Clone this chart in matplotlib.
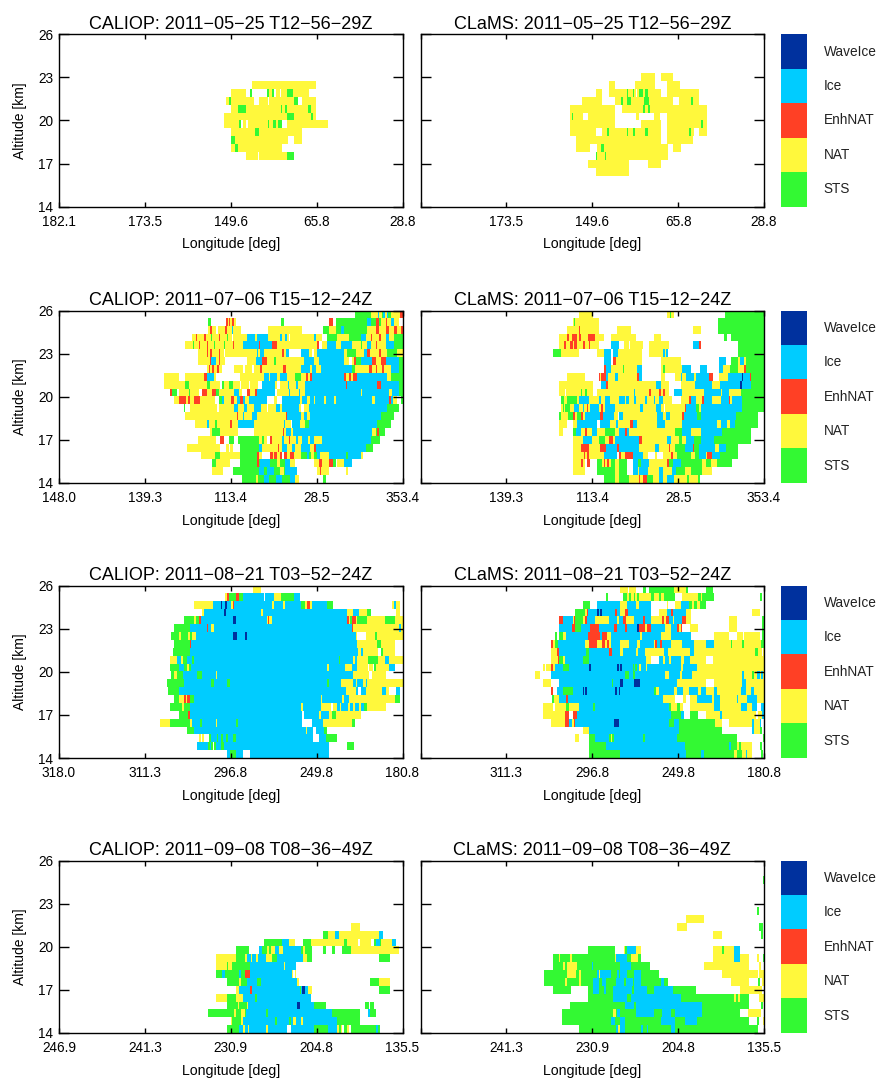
import numpy as np
import matplotlib
matplotlib.use('Agg')
import matplotlib.pyplot as plt
from matplotlib.colors import ListedColormap

plt.rcParams['font.family'] = ['Liberation Sans', 'DejaVu Sans']

# classes, bottom to top of the colour bar
classes = ['STS', 'NAT', 'EnhNAT', 'Ice', 'WaveIce']
class_codes = 'SNEIW'
class_colors = ['#33F933', '#FFF83C', '#FF4025', '#00CCFF', '#00319E']

dates = ['2011\u221205\u221225 T12\u221256\u221229Z', '2011\u221207\u221206 T15\u221212\u221224Z',
         '2011\u221208\u221221 T03\u221252\u221224Z', '2011\u221209\u221208 T08\u221236\u221249Z']
lon_labels = [['182.1', '173.5', '149.6', '65.8', '28.8'],
              ['148.0', '139.3', '113.4', '28.5', '353.4'],
              ['318.0', '311.3', '296.8', '249.8', '180.8'],
              ['246.9', '241.3', '230.9', '204.8', '135.5']]
alt_ticks = [14, 17, 20, 23, 26]

# first and last along-track sample of each curtain
track_caliop = [(177, 1207), (27, 1057), (25, 1057), (25, 1057)]
track_clams = [(32, 1063), (18, 1048), (18, 1048), (18, 1048)]

# curtains: one string per altitude row, top row first.
# "a X b" means class X from sample a to sample b, "." is no cloud
caliop_may = [''] * 6 + [
    '756 N 948',
    '692 N 738 . 750 S 756 . 800 S 806 N 814 S 820 . 826 N 838 . 842 N 860 S 878 N 927',
    '678 N 686 S 693 N 760 . 776 N 802 . 806 N 880 S 894 . 905 N 947',
    '692 N 714 S 738 N 842 S 846 N 854 S 860 N 924 S 933 N 947',
    '672 N 820 S 822 N 860 S 882 N 932 S 938 N 947',
    '672 N 716 S 722 . 728 N 738 . 742 N 802 S 806 N 818 S 828 N 834 S 844 . 860 N 981',
    '692 N 765 S 777 N 906',
    '692 S 705 N 862 . 882 N 906',
    '692 N 705 S 714 N 844',
    '738 N 774 . 777 N 860 S 882',
] + [''] * 6
clams_may = [''] * 5 + [
    '690 N 732 . 750 N 788',
    '594 N 614 . 672 N 732 . 770 N 808',
    '555 N 575 . 594 N 648 S 652 N 666 S 671 N 675 . 678 N 686 S 696 N 704 S 712 N 750 . 768 N 866',
    '516 N 575 . 612 N 632 S 638 N 648 S 660 N 700 S 714 N 788 . 806 N 842 S 846 N 866',
    '478 N 614 . 634 N 696 S 702 N 712 S 717 N 888',
    '478 N 486 S 489 N 518 . 534 N 614 . 675 N 684 . 730 N 748 . 768 N 888',
    '478 N 614 . 690 N 750 . 768 N 872 S 876 N 888',
    '478 N 556 . 574 N 590 S 594 N 648 S 652 N 666 S 672 N 704 S 712 N 750 . 768 N 834 S 840 N 850 . 866 N 888',
    '496 N 750 . 768 N 848',
    '496 N 538 . 558 N 572 S 580 N 772 . 788 N 810',
    '556 S 558 N 582 S 585 N 772',
    '534 N 654 . 712 N 750',
    '555 N 654',
] + [''] * 4

caliop_jul = [
    '912 S 960 N 982 I 986 N 994 S 998 I 1003 N 1008 I 1012 S 1022 N 1048 E 1057',
    '472 S 483 . 528 E 532 N 536 E 540 N 545 E 550 N 556 . 692 S 702 . 836 E 846 . 855 S 950 I 960 S 975 E 985 S 990 N 1005 E 1010 N 1022 I 1030 N 1045',
    '472 N 478 E 486 N 496 . 503 N 523 E 530 N 545 I 548 N 572 . 652 N 756 . 816 S 836 N 855 S 870 I 880 S 950 N 975 E 985 N 1005 E 1015 N 1030 E 1040 N 1050 E 1057',
    '426 N 436 E 440 N 462 E 468 N 482 S 486 N 505 E 510 N 530 S 534 N 545 . 548 N 590 I 615 N 620 I 652 N 690 I 694 N 704 I 710 N 716 . 720 N 790 I 796 N 815 . 830 S 860 N 895 S 930 I 945 N 960 E 965 N 985 E 990 N 1005 I 1015 N 1030 S 1057',
    '405 N 428 S 432 N 445 E 450 N 470 E 474 N 490 S 495 N 520 S 525 N 548 E 552 N 578 I 625 E 628 I 665 E 680 N 800 E 805 . 815 N 830 I 855 N 870 I 905 N 930 S 935 N 950 I 960 N 975 E 980 N 1005 I 1030 S 1057',
    '444 N 470 E 474 N 478 E 486 N 506 E 510 N 522 . 525 N 620 I 624 N 630 I 640 N 695 E 700 N 708 I 716 . 752 I 777 N 785 . 790 N 800 I 880 N 890 S 917 N 940 I 950 E 958 N 985 E 990 N 1010 S 1040 N 1057',
    '444 N 478 E 482 I 498 N 505 E 510 N 525 . 590 N 618 I 634 E 650 N 672 S 677 N 762 I 790 N 804 I 880 N 895 . 905 N 910 E 916 S 930 I 965 E 975 N 990 E 1005 I 1045 S 1057',
    '470 N 476 E 480 N 486 E 490 N 500 E 505 N 515 . 550 N 578 . 584 N 606 . 612 N 630 E 634 N 698 E 708 N 752 I 780 N 784 I 796 N 810 I 905 S 912 N 955 E 965 N 975 E 980 N 995 E 1000 N 1020 I 1045 S 1057',
    '342 N 386 . 405 N 462 E 470 I 492 N 498 . 568 N 640 I 655 N 660 I 680 N 690 I 710 N 735 S 752 N 768 E 772 N 780 E 786 I 880 E 885 N 895 E 900 N 908 E 918 I 1010 N 1022 S 1057',
    '342 N 405 S 415 N 470 S 480 N 510 . 514 S 522 N 536 S 548 N 568 . 572 N 595 . 600 N 622 . 635 I 675 N 680 . 688 N 712 I 716 N 736 I 742 N 765 I 885 E 888 I 980 E 990 I 1045 S 1057',
    '358 E 364 S 380 . 386 N 415 S 420 N 445 . 456 E 470 N 484 E 498 S 505 N 552 I 565 N 575 . 590 E 600 N 615 E 620 I 675 . 680 N 715 I 720 N 745 I 750 N 765 I 930 N 935 I 1015 N 1024 I 1045 S 1057',
    '370 N 385 E 408 N 414 E 420 N 430 E 450 N 495 . 505 S 515 I 522 N 542 E 550 N 560 I 570 E 578 I 585 N 595 I 650 . 672 N 680 . 694 I 748 N 755 I 770 N 780 I 790 N 795 I 820 N 825 I 850 N 855 I 965 N 972 I 1015 E 1020 I 1026 N 1040 . 1050 S 1057',
    '400 S 405 . 420 N 500 . 505 N 552 I 562 N 580 I 590 N 610 I 632 N 650 . 652 N 678 I 690 N 695 I 745 N 752 . 760 N 775 I 1010 S 1045',
    '405 N 560 E 564 N 578 I 580 N 604 I 620 N 706 E 710 I 752 N 760 I 770 N 778 I 992 S 1030',
    '435 N 470 I 476 N 495 S 500 N 540 E 545 N 562 I 610 N 700 I 704 N 722 . 725 I 750 N 764 S 775 I 978 S 1022',
    '478 N 486 S 508 N 564 . 610 N 698 E 702 N 706 I 722 N 728 I 965 N 975 S 980 E 986 S 1002',
    '444 N 498 . 510 E 520 . 536 S 552 . 564 S 627 N 635 S 642 N 650 . 660 E 665 N 695 I 700 N 715 E 720 N 738 I 744 N 755 I 772 N 778 I 790 N 815 I 960 S 987',
    '411 N 510 . 528 N 535 . 540 N 548 . 570 S 625 I 636 N 682 E 686 N 695 I 710 N 725 I 735 N 752 I 778 N 790 E 796 I 945 S 968',
    '453 N 495 S 508 N 570 S 620 E 625 N 635 . 658 E 668 N 672 E 680 N 690 E 695 . 700 E 710 N 720 E 730 N 752 S 770 I 775 S 782 N 790 S 800 I 808 N 835 I 885 S 892 I 930 N 938',
    '486 S 498 N 540 . 570 S 620 E 625 S 628 I 660 S 680 N 690 S 705 I 720 N 735 . 790 N 805 E 815 N 835 E 848 S 855 . 860 N 880 I 903',
    '486 N 517 . 548 S 625 I 640 S 650 I 670 S 690 N 700 S 705 I 740 . 800 N 808 E 812 N 834 . 885 N 892',
    '576 S 618 N 622 S 640 I 655 S 678 I 696 S 720 I 735 N 746 . 816 S 825',
]
clams_jul = [
    '490 N 532 . 756 N 765 S 768 N 776 . 927 S 1048',
    '472 N 476 S 478 N 514 E 516 N 550 . 908 S 1048',
    '454 N 490 E 494 N 550 . 604 N 646 . 832 N 855 . 908 S 1048',
    '432 N 456 E 460 N 470 E 486 N 490 E 496 N 518 E 538 N 567 . 586 N 663 . 717 N 738 . 925 S 933 . 945 S 1048',
    '432 N 446 E 451 N 464 E 472 N 476 E 486 N 504 E 508 N 520 E 524 N 550 . 586 I 612 . 625 N 642 . 645 N 682 . 700 N 760 . 832 I 850 E 856 . 966 S 1048',
    '414 S 438 N 492 . 546 N 567 I 586 . 594 I 609 N 680 . 700 N 744 I 748 N 752 I 759 . 966 S 1048',
    '567 I 588 . 594 E 603 N 680 . 738 N 778 . 780 N 796 . 910 I 930 . 945 S 968 N 972 I 985 N 990 S 1048',
    '567 E 573 I 588 N 624 S 627 N 666 I 681 . 738 N 744 S 748 N 800 I 825 . 852 I 873 . 910 I 922 N 942 S 968 N 985 E 992 S 1048',
    '454 N 510 . 550 E 554 N 558 E 573 I 578 N 598 I 609 N 666 E 672 I 681 . 738 N 750 . 780 N 795 I 800 N 810 I 836 N 840 I 880 E 891 . 910 N 936 I 978 W 982 I 1002 E 1006 S 1048',
    '432 N 532 . 558 I 573 E 578 N 652 I 654 N 723 I 738 N 760 . 796 N 838 I 890 N 912 I 972 W 980 I 1005 S 1048',
    '432 N 450 . 452 N 496 S 499 N 510 S 514 N 532 . 546 N 655 I 660 N 700 E 708 N 730 E 736 N 742 E 750 N 760 . 775 I 798 N 866 I 915 N 920 I 940 N 975 S 1048',
    '438 S 446 N 456 S 460 N 462 S 486 N 490 I 520 N 550 I 556 N 568 I 585 N 610 I 628 N 632 I 642 N 655 I 662 N 690 I 696 N 716 I 720 N 730 I 744 N 770 . 795 N 820 E 826 I 840 N 858 E 866 I 890 N 915 I 940 E 943 N 950 I 980 S 1048',
    '438 N 442 S 446 N 450 S 465 N 475 I 490 N 502 I 505 N 514 E 518 N 525 I 552 N 558 E 562 N 570 I 600 N 675 I 684 N 722 I 738 N 745 . 748 N 808 E 812 I 842 S 850 N 855 I 978 S 1048',
    '432 S 438 N 458 S 474 E 478 N 486 S 496 E 502 N 510 I 555 E 564 I 596 N 608 . 612 I 622 N 725 I 742 N 752 I 765 N 798 E 806 I 845 S 855 I 962 S 1026',
    '432 N 454 . 472 N 484 I 545 . 555 I 585 N 602 I 608 N 645 E 652 I 665 N 725 I 750 N 798 I 905 N 915 I 935 N 942 I 958 S 1026',
    '432 N 442 . 472 S 482 I 498 N 510 E 514 N 530 I 545 N 570 S 600 N 612 I 628 E 634 I 640 N 780 S 800 I 825 N 855 I 920 S 1005',
    '472 N 502 I 530 N 552 S 570 N 580 E 594 N 600 I 672 E 680 N 755 I 768 N 790 S 800 N 810 I 835 S 855 I 895 S 1005',
    '472 N 498 E 520 N 555 E 573 I 604 E 610 I 672 N 720 I 730 N 760 E 765 N 780 S 808 I 832 E 836 S 850 I 898 N 910 I 930 S 968',
    '472 N 505 E 510 N 516 E 520 N 567 I 604 . 612 E 616 N 628 E 652 I 684 N 698 . 718 N 726 . 742 N 768 E 772 N 784 S 825 N 838 S 850 I 870 N 875 E 890 I 912 S 968',
    '472 N 498 E 504 N 510 . 514 E 524 . 546 S 560 N 566 E 570 N 575 E 580 N 588 S 600 N 612 S 636 . 652 I 668 S 678 I 700 N 755 E 760 S 772 I 795 S 858 N 870 S 885 N 905 S 948',
    '472 N 510 . 546 S 598 N 610 S 634 . 652 I 668 N 672 I 698 N 730 I 744 N 770 I 782 S 808 N 825 S 858 N 890',
    '567 S 598 N 610 S 640 N 670 E 674 N 684 E 694 S 712 N 730 I 744 N 755 I 775 N 815 S 820 N 848 S 853',
]

caliop_aug = [
    '606 N 630',
    '522 N 528 S 530 E 536 S 555 E 564 S 578 I 640 . 642 I 670 N 690 S 730 I 748',
    '430 N 486 I 510 W 513 I 522 W 528 I 540 N 546 E 550 I 665 N 670 I 698 N 702 I 752 S 762 N 770 E 778 N 785 I 830 S 846 . 1024 N 1030 I 1036 N 1048',
    '453 N 460 I 520 W 527 I 630 N 638 I 888 N 906 I 926 N 950 S 962 . 1036 N 1048',
    '400 S 430 N 436 S 444 E 452 I 548 W 555 I 648 N 652 E 655 N 665 I 890 E 895 N 898 S 905 E 915 N 920 S 948 N 1002 S 1032 N 1057',
    '370 S 418 I 468 E 472 I 480 N 489 I 905 E 908 N 1045 I 1050 N 1057',
    '360 S 386 N 392 S 412 N 418 S 425 N 435 I 548 W 558 I 582 W 588 I 915 N 920 . 947 N 972 S 980 N 1057',
    '370 S 418 E 420 I 920 N 980 S 990 N 1032',
    '366 S 418 I 922 N 932 I 938 N 982 . 990 S 996 N 1032',
    '358 N 378 I 392 N 398 S 408 I 425 S 430 I 865 S 868 I 906 N 914 I 920 N 952 S 982 N 1002 I 1014 N 1057',
    '358 S 386 I 400 S 408 N 415 S 420 I 830 N 836 I 882 N 905 I 920 N 952 . 955 N 966 . 970 S 976 N 1014 I 1032',
    '360 S 370 N 378 S 398 I 438 S 453 I 495 N 498 I 906 N 955 . 965 N 1005',
    '348 S 400 I 480 S 490 I 530 S 538 I 830 S 836 I 872 N 908 I 915 N 920 I 936 N 945 I 950 N 1057',
    '352 S 386 I 408 I 886 N 915 I 922 . 932 I 946 N 993 I 1005 N 1014 . 1035 I 1047',
    '370 S 384 N 400 E 405 N 410 E 418 S 430 I 810 N 813 I 873 N 880 I 896 N 1032 S 1047',
    '358 S 393 N 399 S 417 I 752 N 758 I 812 N 840 . 846 N 858 I 868 N 872 I 892 N 898 I 906 N 914 I 926 N 932 I 940 S 948 N 1005',
    '385 S 412 E 417 I 755 . 760 I 804 N 810 I 836 N 845 S 855 N 930',
    '327 N 357 S 417 N 425 I 447 S 453 I 495 N 498 I 556 S 563 I 755 . 785 I 818 N 824 N 905 S 912',
    '408 S 430 I 765 N 768 I 786 . 796 I 820 S 828',
    '444 N 450 . 454 N 460 . 475 S 482 I 498 S 502 I 510 S 516 I 527 S 532 I 548 S 555 I 786 . 805 I 826 S 858',
    '438 N 440 I 472 S 478 I 482 S 486 . 490 S 495 I 512 S 520 I 836 . 888 S 910',
    '528 I 538 S 555 I 578 . 598 I 836',
]
clams_aug = [
    '615 N 638 . 642 N 662 . 684 S 692 . 702 S 742 . 744 S 776 N 812 S 818 . 870 S 893',
    '571 S 578 . 624 S 636 N 642 S 648 N 655 S 660 N 666 S 670 N 708 S 716 N 732 S 738 N 745 S 780 . 800 N 846 S 855 N 860 S 894 . 1032 S 1038',
    '502 S 525 . 546 I 615 N 634 I 663 N 672 I 708 . 756 N 758 . 778 N 795 I 820 S 830 N 834 S 845 N 852 S 870',
    '478 S 510 N 514 E 519 I 546 W 552 I 555 W 560 I 600 E 606 I 615 N 630 E 638 I 708 . 732 N 754 I 768 E 773 I 810 N 825 . 1008 N 1032',
    '430 E 442 I 472 N 476 E 480 S 502 N 510 E 514 I 540 N 580 I 606 N 610 I 624 E 632 N 657 I 684 E 690 I 708 N 741 E 745 N 752 E 760 I 772 N 776 I 800 E 810 N 825 . 940 N 963 . 1040 S 1048',
    '430 I 470 E 478 S 496 I 525 E 552 I 596 E 606 I 628 E 634 I 664 W 672 E 690 N 694 E 706 I 750 N 768 I 785 E 790 N 796 E 800 . 822 N 848 . 940 N 963 . 1040 S 1048',
    '420 S 426 . 430 S 442 N 452 I 518 E 554 I 561 E 574 N 586 I 675 N 680 I 738 N 768 I 826 . 894 N 940 . 963 N 982 . 984 N 1032 . 1040 S 1048',
    '408 E 412 N 418 S 428 I 510 N 522 E 546 N 560 E 568 N 574 E 580 N 586 I 615 N 642 I 664 N 675 I 716 N 720 E 724 I 735 E 741 I 768 N 800 I 834 N 870 I 894 N 945 S 948 N 980 S 984 N 1035 S 1048',
    '408 N 426 E 430 I 513 S 522 I 582 E 590 I 615 N 622 I 663 N 668 I 690 N 745 I 759 N 822 I 836 N 1018 S 1027 N 1038 . 1042 N 1048',
    '408 N 428 E 430 S 442 N 450 I 502 S 522 I 693 N 708 . 732 I 744 N 748 I 760 N 768 I 795 N 804 I 822 N 870 . 893 N 1048',
    '384 N 390 . 393 N 408 E 412 N 420 I 442 S 460 I 522 W 528 I 606 W 612 I 615 W 620 I 652 S 656 I 660 S 665 I 672 N 676 I 692 N 695 I 795 N 802 I 843 N 1048',
    '360 N 375 . 408 I 630 S 640 I 652 S 658 I 750 N 762 I 792 N 800 I 828 N 980 I 984 N 1008 S 1014 N 1025 I 1032 N 1036 I 1042 N 1048',
    '384 N 408 . 430 I 590 S 593 I 615 W 622 I 657 W 675 I 784 N 870 . 894 N 980 I 992 N 1048',
    '408 E 412 . 426 I 442 S 472 I 502 W 505 I 510 W 514 I 600 W 606 I 612 W 614 I 717 S 722 N 732 I 775 N 785 I 802 N 820 I 846 N 856 I 870 N 894 I 905 N 975 I 990 N 1005 I 1014 N 1048',
    '410 S 416 N 430 I 453 E 459 I 744 N 780 . 803 N 810 . 822 N 844 I 888 N 894 I 912 N 963 I 966 N 993 I 1023 N 1048',
    '384 N 414 . 418 N 424 . 426 N 453 S 460 N 492 I 532 S 538 I 762 S 768 N 786 S 792 N 802 . 822 N 894 I 914 N 975 I 993 N 1008 I 1025 . 1036 I 1048',
    '384 N 450 E 462 . 472 E 486 I 768 S 796 I 804 . 822 S 848 . 870 N 912 I 920 N 1020 . 1028 N 1040 I 1048',
    '408 N 450 E 462 I 470 N 476 E 480 I 597 W 612 I 762 S 775 I 790 S 897 N 918 . 940 N 1008 I 1014 N 1032 I 1036',
    '502 N 522 I 790 S 918 . 1008 I 1014 N 1032 S 1040',
    '478 N 492 . 522 S 538 I 580 S 586 N 590 S 597 I 682 S 690 I 785 S 963 . 1042 S 1048',
    '522 S 573 I 808 S 940 I 945 S 965 N 970 S 975 N 1010 . 1032 S 1040',
    '522 S 615 I 810 S 855 I 864 S 954 N 963 S 980 N 990 I 993 N 1010 . 1035 S 1042',
]

caliop_sep = [''] * 8 + [
    '900 N 927',
    '816 S 832 N 852 I 864 N 985 I 996',
    '640 S 693 I 714 N 732 . 756 S 782 N 880 S 888 N 922 . 928 N 960 . 970 S 975 I 987 S 990 N 1023 I 1035',
    '556 S 594 . 624 I 634 S 650 N 656 S 660 N 672 I 686 N 696 I 750 S 756 N 762 S 784 . 816 S 826 . 843 S 852 . 873 S 900 N 1044',
    '495 N 556 S 583 N 590 I 600 N 605 I 615 N 622 I 645 N 665 S 678 I 756 N 768 S 783 . 984 S 1017',
    '495 N 528 S 533 N 543 S 597 I 700 N 703 I 735',
    '495 S 513 I 522 S 564 I 570 S 582 E 597 I 725 N 728 . 733 N 736',
    '528 S 564 N 570 S 588 I 618 S 630 I 740 N 746 . 957 S 984 N 1017',
    '556 N 564 I 597 E 603 I 748 S 750 I 754 W 762 I 772 N 783 . 984 S 1017',
    '495 N 528 S 555 N 576 I 612 S 618 I 780',
    '528 S 562 N 564 S 588 N 592 I 740 W 747 I 790 S 825 . 942 S 954 . 957 S 969',
    '471 S 549 N 555 S 570 N 582 S 586 I 645 S 651 I 843 S 927 . 951 I 957 S 975',
    '540 N 543 S 570 N 576 I 672 S 678 I 714 S 720 I 728 N 735 I 752 N 756 I 858 S 927',
    '528 S 564 I 576 N 582 I 592 N 596 I 645 N 651 I 708 . 720 I 790 S 832 I 858 N 864 S 870 N 873 . 880 S 888 N 894 . 900 S 975 I 981 S 987',
]
clams_sep = [''] * 2 + [
    '1041 S 1048',
] + [''] * 3 + [
    '1023 S 1029',
    '810 N 864',
    '786 N 813 . 1029 S 1041',
    '891 N 918 . 1035 S 1041',
    '',
    '519 S 600 . 627 N 630 S 636 I 663 N 678 . 891 N 918 S 924 N 954 I 972',
    '414 S 430 N 435 S 465 N 471 S 600 N 603 I 636 S 648 N 668 S 678 . 891 N 954 I 972 N 999 . 1023 N 1029 . 1041 S 1048',
    '414 S 442 N 450 S 456 N 486 S 530 I 534 S 615 I 648 S 705 . 864 N 999 . 1030 N 1036',
    '387 S 456 N 483 S 492 N 498 S 546 I 552 N 555 I 588 S 606 I 612 S 615 I 636 S 657 I 678 S 732 . 918 N 1026 . 1030 N 1048',
    '387 S 450 N 456 S 492 N 498 S 534 I 552 S 561 I 573 S 603 I 627 S 632 I 654 S 657 I 678 S 738 I 747 S 759 . 945 N 999 . 1027 S 1033 . 1040 N 1048',
    '414 S 468 . 519 S 534 I 552 S 567 I 573 S 594 I 651 S 657 I 696 S 717 I 774 S 840 . 972 N 1040',
    '519 S 594 I 636 S 648 I 795 S 954 N 960 S 966 N 972 S 999 . 1030 N 1048',
    '465 S 630 I 657 S 663 I 858 S 999 . 1035 S 1041',
    '441 S 594 N 603 S 606 I 615 S 663 I 717 S 741 I 768 S 780 I 858 S 972 . 996 N 1035',
    '441 S 588 I 600 S 615 I 630 S 738 I 780 S 807 I 843 S 999 . 1023 S 1029 . 1041 N 1048',
    '492 S 603 I 609 N 615 I 630 S 678 I 684 S 696 I 699 S 768 I 780 S 1026',
]

caliop_rows = [caliop_may, caliop_jul, caliop_aug, caliop_sep]
clams_rows = [clams_may, clams_jul, clams_aug, clams_sep]

cmap = ListedColormap(class_colors)
cmap.set_bad('white')


def curtain(rows, first, last):
    # turn the run strings into a row x sample class grid
    grid = np.full((len(rows), last - first), np.nan)
    for r, row in enumerate(rows):
        tok = row.split()
        for i in range(0, len(tok) - 2, 2):
            if tok[i + 1] == '.':
                continue
            a, b = int(tok[i]) - first, int(tok[i + 2]) - first
            grid[r, a:b] = class_codes.index(tok[i + 1])
    return np.ma.masked_invalid(grid)


def panel(ax, rows, track, title, labels, left):
    first, last = track
    ax.imshow(curtain(rows, first, last), cmap=cmap, vmin=-0.5, vmax=4.5, aspect='auto',
              interpolation='nearest', extent=(first, last, 14, 26))
    ax.set_xlim(first, last)
    ax.set_ylim(14, 26)
    ax.set_xticks(np.linspace(first, last, 5))
    ax.set_yticks(alt_ticks)
    ax.tick_params(axis='x', direction='in', length=3.5, width=1, top=True, pad=6, labelsize=9.8)
    ax.tick_params(axis='y', direction='in', length=7, width=1, right=True, pad=4, labelsize=9.8)
    if left:
        ax.set_xticklabels(labels)
        ax.set_ylabel('Altitude [km]', fontsize=10, labelpad=8)
    else:
        ax.set_xticklabels([''] + labels[1:])
        ax.set_yticklabels([])
    ax.set_xlabel('Longitude [deg]', fontsize=10.2, labelpad=6)
    ax.set_title(title, fontsize=13, pad=4)
    for s in ax.spines.values():
        s.set_linewidth(1)


W, H = 882, 1078
fig = plt.figure(figsize=(W / 100, H / 100), dpi=100)
tops = [34.3, 310.7, 585.7, 860.7]
panel_h = 172.3

for k, top in enumerate(tops):
    y0 = 1 - (top + panel_h) / H
    ax1 = fig.add_axes([59 / W, y0, 343.5 / W, panel_h / H])
    panel(ax1, caliop_rows[k], track_caliop[k], 'CALIOP: ' + dates[k], lon_labels[k], True)
    ax2 = fig.add_axes([420.5 / W, y0, 343.5 / W, panel_h / H])
    panel(ax2, clams_rows[k], track_clams[k], 'CLaMS: ' + dates[k], lon_labels[k], False)

    cax = fig.add_axes([781 / W, y0, 26 / W, panel_h / H])
    cax.imshow(np.arange(len(classes))[:, None], cmap=cmap, vmin=-0.5, vmax=4.5, aspect='auto',
               origin='lower', interpolation='nearest')
    cax.axis('off')
    for i, name in enumerate(classes):
        cax.text(1.15, i, name, fontsize=9.8, va='center', ha='left', color='#222222', clip_on=False)

fig.savefig('out.png', dpi=100)
